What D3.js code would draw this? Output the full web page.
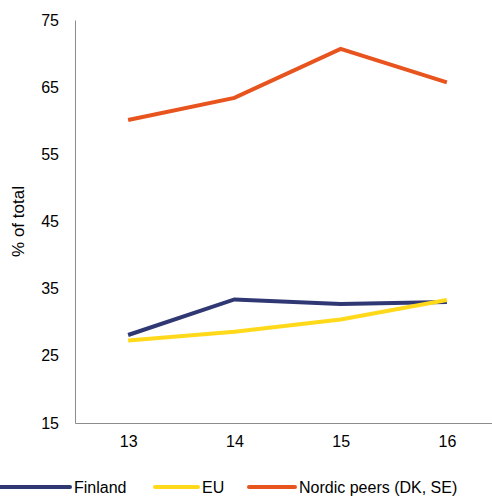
<!DOCTYPE html>
<html>
<head>
<meta charset="utf-8">
<script src="https://cdn.jsdelivr.net/npm/d3@7"></script>
<style>
  body { margin: 0; background: #fff; overflow: hidden; }
  text { font-family: "Liberation Sans", Arial, sans-serif; }
</style>
</head>
<body>
<div id="chart"></div>
<script>
// chart data
const years = ["13", "14", "15", "16"];
const finland = [28.1, 33.4, 32.7, 33.0];
const eu = [27.3, 28.6, 30.4, 33.3];
const nordic = [60.1, 63.4, 70.7, 65.7];
const yTicks = [15, 25, 35, 45, 55, 65, 75];

const series = [
  { name: "Finland", values: finland, color: "#2f3873" },
  { name: "EU", values: eu, color: "#ffd91a" },
  { name: "Nordic peers (DK, SE)", values: nordic, color: "#e8541e" }
];

const width = 492, height = 497;
const margin = { top: 20, left: 75, bottom: 74 };
const innerWidth = 425;
const innerHeight = height - margin.top - margin.bottom;

const svg = d3.select("#chart").append("svg")
  .attr("width", width).attr("height", height);

const g = svg.append("g").attr("transform", `translate(${margin.left},${margin.top})`);

const x = d3.scalePoint().domain(years).range([0, innerWidth]).padding(0.5);
const y = d3.scaleLinear().domain([15, 75]).range([innerHeight, 0]);

// y axis
const yAxis = g.append("g").call(d3.axisLeft(y).tickValues(yTicks).tickSize(0).tickPadding(16));
yAxis.selectAll("text").attr("font-size", 16).attr("fill", "#000");
yAxis.select(".domain").attr("stroke", "#8c8c8c");

// x axis
const xAxis = g.append("g").attr("transform", `translate(0,${innerHeight})`)
  .call(d3.axisBottom(x).tickSize(0).tickPadding(13));
xAxis.selectAll("text").attr("font-size", 16).attr("fill", "#000");
xAxis.select(".domain").attr("stroke", "#8c8c8c");

svg.append("text")
  .attr("transform", `translate(24,${margin.top + innerHeight / 2}) rotate(-90)`)
  .attr("text-anchor", "middle").attr("font-size", 17).text("% of total");

const line = d3.line().x((d, i) => x(years[i])).y(d => y(d));
g.selectAll(".series").data(series).join("path")
  .attr("fill", "none").attr("stroke", d => d.color).attr("stroke-width", 4)
  .attr("d", d => line(d.values));

// legend
const legend = [{ x1: 0, x2: 70 }, { x1: 155, x2: 198 }, { x1: 249, x2: 295 }];
const lg = svg.append("g").attr("transform", "translate(0,487)");
series.forEach((s, i) => {
  lg.append("line").attr("x1", legend[i].x1).attr("x2", legend[i].x2)
    .attr("stroke", s.color).attr("stroke-width", 4).attr("stroke-linecap", "round");
  lg.append("text").attr("x", legend[i].x2 + 4).attr("y", 6)
    .attr("font-size", 16).text(s.name);
});
</script>
</body>
</html>
